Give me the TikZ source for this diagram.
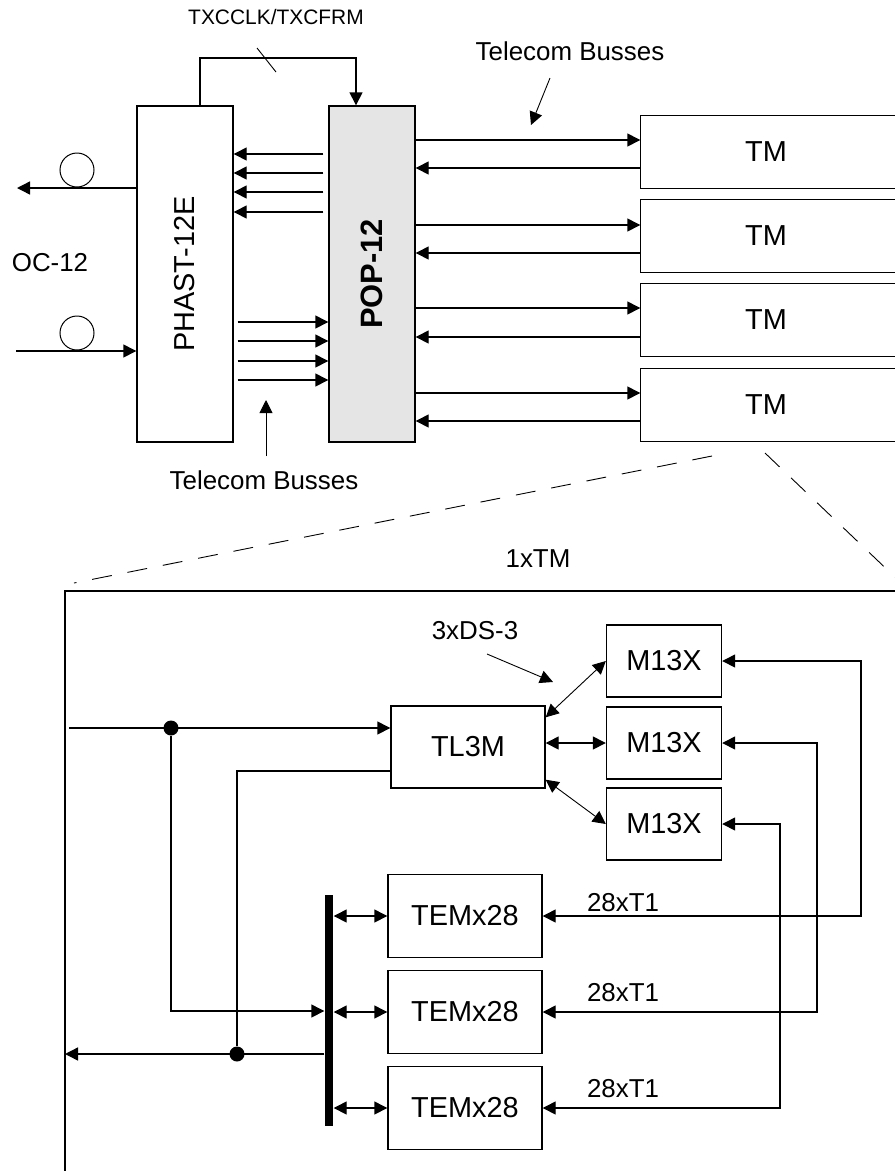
\documentclass[tikz,border=0pt]{standalone}
\usepackage{fontspec}
\setmainfont{Liberation Sans}
\usepackage{graphicx}
\usetikzlibrary{arrows.meta}

\begin{document}
\begin{tikzpicture}[x=1bp, y=-1bp, line width=1.4bp,
    >={Triangle[length=13bp,width=13bp]},
    box/.style={draw, inner sep=0pt, font=\fontsize{29}{31}\selectfont},
    lbl/.style={inner sep=1bp, font=\fontsize{26}{28}\selectfont},
    dot/.style={circle, fill, inner sep=0pt, minimum size=15bp},
    fiber/.style={circle, draw, inner sep=0pt, minimum size=34bp, line width=1bp},
    thinline/.style={line width=0.9bp}]
  \useasboundingbox (0,0) rectangle (895,1171);
  \clip (0,0) rectangle (895,1171);
  % The line side: PHAST-12E and POP-12.
  \node[box, minimum width=96bp, minimum height=336bp] (phast) at (185,274) {\rotatebox{90}{PHAST-12E}};
  \node[box, fill=gray!20, minimum width=86bp, minimum height=336bp,
        font=\fontsize{31}{33}\selectfont\bfseries] (pop) at (372,274) {\rotatebox{90}{POP-12}};
  % The OC-12 fibers.
  \node[fiber] (fibout) at (77,170) {};
  \node[fiber] (fibin) at (77,333) {};
  \coordinate (ocout) at (17,188);
  \coordinate (ocin) at (16,351);
  \draw[->] (phast.west |- ocout) -- (ocout);
  \draw[->] (ocin) -- (phast.west |- ocin);
  \node[lbl] (oc) at (50,263) {OC-12};
  % The clock and frame pulse.
  \coordinate (clk) at (200,58);
  \draw[->] (phast.north -| clk) -- (clk) -| (pop.north -| 356,0);
  \draw[thinline] (257,48) -- (276,72);
  \node[lbl, font=\fontsize{21}{23}\selectfont] (clklbl) at (276,17) {TXCCLK/TXCFRM};
  % The busses between PHAST-12E and POP-12.
  \foreach \y in {154,173,192,212}
    \draw[->, shorten <=5bp] (pop.west |- 0,\y) -- (phast.east |- 0,\y);
  \foreach \y in {322,341,361,380}
    \draw[->, shorten <=4bp] (phast.east |- 0,\y) -- (pop.west |- 0,\y);
  \node[lbl] (busdn) at (264,480) {Telecom Busses};
  \coordinate (busdna) at (266,456);
  \coordinate (busdnb) at (266,400);
  \draw[->, thinline] (busdna) -- (busdnb);
  % The four TMs.
  \foreach \i/\y/\a/\b in {1/152/140/168, 2/236/225/253, 3/320/308/337, 4/405/393/421} {
    \node[box, draw=none, minimum width=250bp, minimum height=72bp] (tm\i) at (766,\y) {TM};
    \draw (tm\i.north west) rectangle ([xshift=100bp]tm\i.south east);
    \draw[->] (pop.east |- 0,\a) -- (tm\i.west |- 0,\a);
    \draw[->] (tm\i.west |- 0,\b) -- (pop.east |- 0,\b);
  }
  \node[lbl] (busup) at (570,51) {Telecom Busses};
  \coordinate (busupa) at (550,78);
  \coordinate (busupb) at (531,125);
  \draw[->, thinline] (busupa) -- (busupb);
  % The zoom into one TM.
  \draw[thinline, dash pattern=on 20bp off 16bp] (712,456) -- (74,583);
  \draw[thinline, dash pattern=on 20bp off 16bp] (765,453) -- (920,601);
  \node[lbl] (onetm) at (538,559) {1xTM};
  \coordinate (frame) at (65,591);
  \draw (960,591) -- (frame) -- (65,1200);
  % Inside the TM.
  \node[box, minimum width=154bp, minimum height=82bp] (tl3m) at (468,747) {TL3M};
  \foreach \i/\y in {1/661,2/743,3/824}
    \node[box, minimum width=115bp, minimum height=72bp] (m\i) at (664,\y) {M13X};
  \foreach \i/\y in {1/916,2/1012,3/1108}
    \node[box, minimum width=154bp, minimum height=83bp] (tem\i) at (465,\y) {TEMx28};
  \node[fill, inner sep=0pt, minimum width=8bp, minimum height=231bp] (bus) at (329,1010) {};
  % Busses into and out of the TM.
  \coordinate (tmin) at (69,728);
  \node[dot] (j1) at (171,728) {};
  \draw[->] (tmin) -- (tl3m.west |- tmin);
  \draw[->] (j1) |- (bus.west |- 0,1011);
  \node[dot] (j2) at (237,1054) {};
  \draw (tl3m.west |- 0,771) -| (j2);
  \draw[->] (bus.west |- j2) -- (frame |- j2);
  % The DS-3s.
  \draw[<->, thinline] ([yshift=-12bp]tl3m.north east) -- (m1.west);
  \draw[<->] (tl3m.east |- m2) -- (m2.west);
  \draw[<->, thinline] ([yshift=9bp]tl3m.south east) -- (m3.west);
  \node[lbl] (ds3) at (475,631) {3xDS-3};
  \coordinate (ds3a) at (487,654);
  \coordinate (ds3b) at (553,682);
  \draw[->, thinline] (ds3a) -- (ds3b);
  % The T1s.
  \foreach \i/\x/\y in {1/861/903, 2/817/993, 3/780/1089} {
    \draw[<->] (m\i.east) -| (\x,0 |- tem\i.east) -- (tem\i.east);
    \node[lbl] (t\i) at (623,\y) {28xT1};
    \draw[<->] (bus.east |- tem\i) -- (tem\i.west);
  }
\end{tikzpicture}
\end{document}
